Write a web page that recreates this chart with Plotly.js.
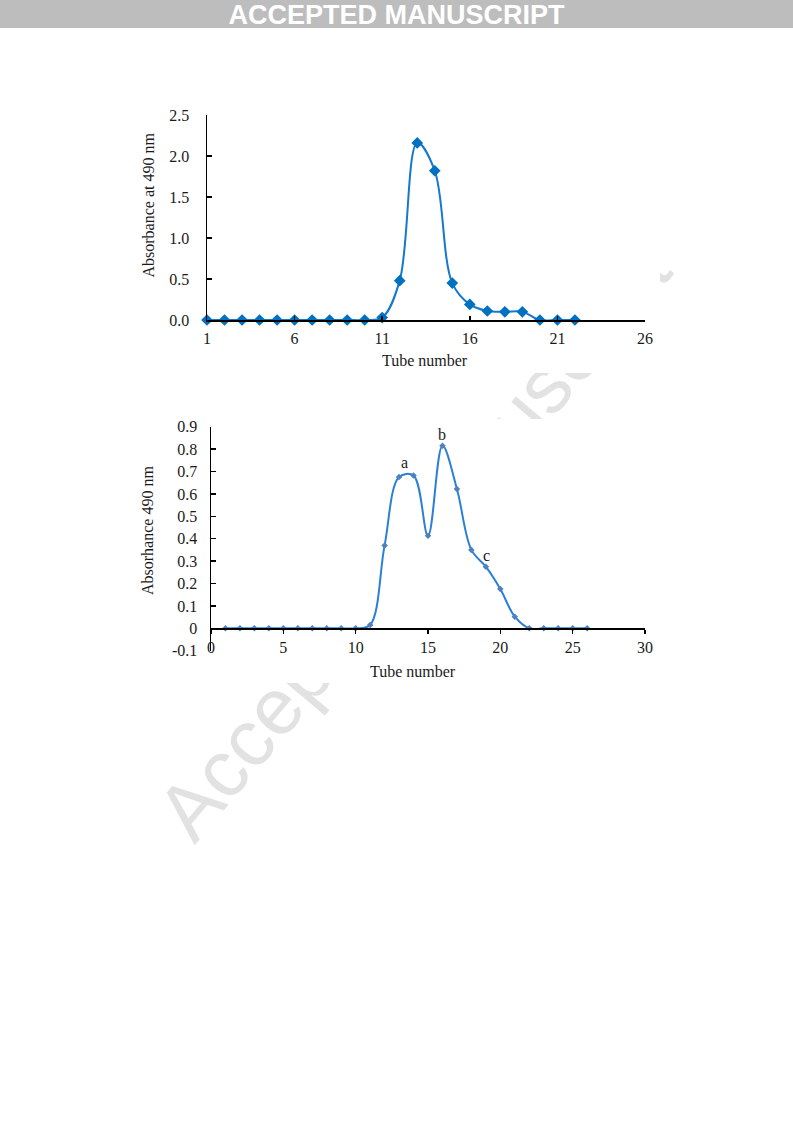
<!DOCTYPE html>
<html>
<head>
<meta charset="utf-8">
<script src="https://cdn.plot.ly/plotly-3.0.1.min.js"></script>
<style>
  html, body { margin: 0; padding: 0; background: #ffffff; }
  #page { position: relative; width: 793px; height: 1123px; overflow: hidden; background: #ffffff; }
  #banner { position: absolute; left: 0; top: 0; width: 793px; height: 28px; background: #bdbdbd; }
  #bannerText { position: absolute; left: 0; top: 1px; width: 793px; height: 28px; line-height: 28px;
    text-align: center; color: #ffffff; font-family: "Liberation Sans", Arial, sans-serif; font-weight: bold;
    font-size: 27px; white-space: nowrap; }
  #wm { position: absolute; left: 195px; top: 778px; font-family: "Liberation Sans", Arial, sans-serif;
    font-size: 80px; line-height: 80px; color: #e2e2e2; white-space: nowrap;
    transform-origin: 0 67.7px; transform: rotate(-50deg); }
  #chart { position: absolute; left: 0; top: 0; width: 793px; height: 1123px; }
</style>
</head>
<body>
<div id="page">
  <div id="banner"></div>
  <div id="bannerText">ACCEPTED MANUSCRIPT</div>
  <div id="wm">Accepted Manuscript</div>
  <div id="chart"></div>
</div>
<script>
// ---------- data ----------
const tubes1 = [1, 2, 3, 4, 5, 6, 7, 8, 9, 10, 11, 12, 13, 14, 15, 16, 17, 18, 19, 20, 21, 22];
const absorbance1 = [0, 0, 0, 0, 0, 0, 0, 0, 0, 0, 0.03, 0.48, 2.16, 1.82, 0.45, 0.19, 0.11, 0.10, 0.10, 0, 0, 0];

const tubes2 = [1, 2, 3, 4, 5, 6, 7, 8, 9, 10, 11, 12, 13, 14, 15, 16, 17, 18, 19, 20, 21, 22, 23, 24, 25, 26];
const absorbance2 = [0, 0, 0, 0, 0, 0, 0, 0, 0, 0, 0.015, 0.37, 0.675, 0.682, 0.413, 0.815, 0.622, 0.35, 0.275, 0.175, 0.052, 0, 0, 0, 0, 0];

const yTickVals1 = [0, 0.5, 1.0, 1.5, 2.0, 2.5];
const yTickText1 = ['0.0', '0.5', '1.0', '1.5', '2.0', '2.5'];
const xTickVals1 = [1, 6, 11, 16, 21, 26];

const yTickVals2 = [-0.1, 0, 0.1, 0.2, 0.3, 0.4, 0.5, 0.6, 0.7, 0.8, 0.9];
const yTickText2 = ['-0.1', '0', '0.1', '0.2', '0.3', '0.4', '0.5', '0.6', '0.7', '0.8', '0.9'];
const xTickVals2 = [0, 5, 10, 15, 20, 25, 30];

const peakNames = ['a', 'b', 'c'];
const peakTube = [13.4, 16, 19.05];
const peakAbs = [0.74, 0.863, 0.324];

const xTitle = 'Tube number';
const yTitle1 = 'Absorbance at 490 nm';
const yTitle2 = 'Absorhance 490 nm';

// ---------- layout helpers ----------
const W = 793, H = 1123;
const px = v => v / W;
const py = v => 1 - v / H;
const serif = '"Liberation Serif", "Times New Roman", serif';
const tickFont = { family: serif, size: 16, color: '#1a1a1a' };

const trace1 = {
  x: tubes1, y: absorbance1, xaxis: 'x', yaxis: 'y',
  type: 'scatter', mode: 'lines+markers',
  line: { shape: 'spline', smoothing: 1, color: '#1478cc', width: 2 },
  marker: { symbol: 'diamond', size: 9, color: '#0070c0' },
  cliponaxis: false, showlegend: false, hoverinfo: 'x+y'
};
const trace2 = {
  x: tubes2, y: absorbance2, xaxis: 'x2', yaxis: 'y2',
  type: 'scatter', mode: 'lines+markers',
  line: { shape: 'spline', smoothing: 1, color: '#2b80d6', width: 2 },
  marker: { symbol: 'diamond', size: 5, color: '#4f81bd' },
  cliponaxis: false, showlegend: false, hoverinfo: 'x+y'
};

const axisCommon = {
  showgrid: false, zeroline: false, showline: true, linecolor: '#000000', linewidth: 1.5,
  tickcolor: '#000000', tickwidth: 1.5, tickfont: tickFont, fixedrange: true
};

const annotations = [
  { text: xTitle, xref: 'paper', yref: 'paper', x: px(424.5), y: py(361), xanchor: 'center', yanchor: 'middle',
    showarrow: false, font: { family: serif, size: 16, color: '#1a1a1a' } },
  { text: yTitle1, xref: 'paper', yref: 'paper', x: px(148), y: py(205.5), xanchor: 'center', yanchor: 'middle',
    textangle: -90, showarrow: false, font: { family: serif, size: 16, color: '#1a1a1a' } },
  { text: xTitle, xref: 'paper', yref: 'paper', x: px(413), y: py(671.5), xanchor: 'center', yanchor: 'middle',
    showarrow: false, font: { family: serif, size: 16, color: '#1a1a1a' } },
  { text: yTitle2, xref: 'paper', yref: 'paper', x: px(147), y: py(531), xanchor: 'center', yanchor: 'middle',
    textangle: -90, showarrow: false, font: { family: serif, size: 16, color: '#1a1a1a' } }
];
peakNames.forEach((n, i) => {
  annotations.push({ text: n, xref: 'x2', yref: 'y2', x: peakTube[i], y: peakAbs[i], xanchor: 'center', yanchor: 'middle',
    showarrow: false, font: { family: serif, size: 16, color: '#1a1a1a' } });
});

const layout = {
  width: W, height: H,
  margin: { l: 0, r: 0, t: 0, b: 0, pad: 0 },
  paper_bgcolor: 'rgba(0,0,0,0)', plot_bgcolor: 'rgba(0,0,0,0)',
  showlegend: false,
  xaxis: Object.assign({}, axisCommon, {
    domain: [px(207), px(645)], anchor: 'y', range: [1, 26],
    tickmode: 'array', tickvals: xTickVals1, ticks: 'inside', ticklen: 4, ticklabelstandoff: 3
  }),
  yaxis: Object.assign({}, axisCommon, {
    domain: [py(320), py(115)], anchor: 'x', range: [0, 2.5],
    tickmode: 'array', tickvals: yTickVals1, ticktext: yTickText1, ticks: 'inside', ticklen: 5, ticklabelstandoff: 13
  }),
  xaxis2: Object.assign({}, axisCommon, {
    domain: [px(211), px(645)], anchor: 'free', position: py(628.3), range: [0, 30],
    tickmode: 'array', tickvals: xTickVals2, ticks: 'outside', ticklen: 4, ticklabelstandoff: 0
  }),
  yaxis2: Object.assign({}, axisCommon, {
    domain: [py(650.7), py(426.7)], anchor: 'x2', range: [-0.1, 0.9],
    tickmode: 'array', tickvals: yTickVals2, ticktext: yTickText2, ticks: 'inside', ticklen: 5, ticklabelstandoff: 9
  }),
  shapes: [
    { type: 'rect', xref: 'paper', yref: 'paper', x0: px(135), x1: px(660), y0: py(373), y1: py(103),
      fillcolor: '#ffffff', line: { width: 0 }, layer: 'below' },
    { type: 'rect', xref: 'paper', yref: 'paper', x0: px(135), x1: px(660), y0: py(683), y1: py(419),
      fillcolor: '#ffffff', line: { width: 0 }, layer: 'below' }
  ],
  annotations: annotations
};

Plotly.newPlot('chart', [trace1, trace2], layout, { displayModeBar: false, staticPlot: true });
</script>
</body>
</html>
